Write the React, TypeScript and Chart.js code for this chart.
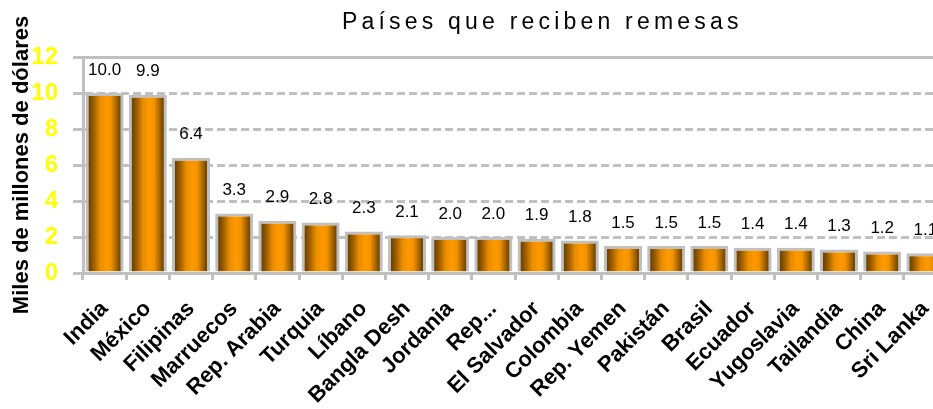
import React, { useEffect, useRef } from 'react';
import { Chart, registerables } from 'chart.js';

Chart.register(...registerables);

const CHART_TITLE = 'Países que reciben remesas';
const Y_TITLE = 'Miles de millones de dólares';
const countries = [
  'India', 'México', 'Filipinas', 'Marruecos', 'Rep. Arabia', 'Turquia', 'Líbano',
  'Bangla Desh', 'Jordania', 'Rep...', 'El Salvador', 'Colombia', 'Rep. Yemen',
  'Pakistán', 'Brasil', 'Ecuador', 'Yugoslavia', 'Tailandia', 'China', 'Sri Lanka',
];
const remittances = [
  10.0, 9.9, 6.4, 3.3, 2.9, 2.8, 2.3, 2.1, 2.0, 2.0,
  1.9, 1.8, 1.5, 1.5, 1.5, 1.4, 1.4, 1.3, 1.2, 1.1,
];
const yTickValues = [0, 2, 4, 6, 8, 10, 12];

const FONT = "'Liberation Sans', Arial, Helvetica, sans-serif";
const GRID = '#c0c0c0';
const BAR_PCT = 0.88;

const decorPlugin = {
  id: 'decor',
  beforeDatasetsDraw(chart: any) {
    const { ctx, chartArea } = chart;
    ctx.save();
    ctx.strokeStyle = GRID;
    ctx.lineWidth = 3;
    ctx.setLineDash([]);
    ctx.beginPath();
    ctx.moveTo(chartArea.left - 10, Math.round(chartArea.top) + 0.5);
    ctx.lineTo(chartArea.right, Math.round(chartArea.top) + 0.5);
    ctx.stroke();
    ctx.restore();
  },
  afterDatasetsDraw(chart: any) {
    const { ctx } = chart;
    const meta = chart.getDatasetMeta(0);
    ctx.save();
    ctx.font = `17px ${FONT}`;
    ctx.fillStyle = '#000';
    ctx.textAlign = 'center';
    ctx.textBaseline = 'middle';
    meta.data.forEach((bar: any, i: number) => {
      ctx.fillText(remittances[i].toFixed(1), bar.x, bar.y - 23);
    });
    ctx.restore();
  },
  afterDraw(chart: any) {
    const { ctx } = chart;
    ctx.save();
    ctx.font = `23px ${FONT}`;
    ctx.fillStyle = '#000';
    ctx.textAlign = 'left';
    ctx.textBaseline = 'alphabetic';
    try { (ctx as any).letterSpacing = '4.2px'; } catch (e) { /* ignore */ }
    ctx.fillText(CHART_TITLE, 342, 29);
    ctx.restore();
  },
};

function barGradient(context: any) {
  const chart = context.chart;
  const xs = chart.scales && chart.scales.x;
  if (!xs || !chart.chartArea || context.dataIndex === undefined) return '#ff9900';
  const cx = xs.getPixelForValue(context.dataIndex);
  const w = (xs.width / countries.length) * BAR_PCT;
  const g = chart.ctx.createLinearGradient(cx - w / 2 + 3, 0, cx + w / 2 - 3, 0);
  g.addColorStop(0, '#683f00');
  g.addColorStop(0.15, '#9a5c00');
  g.addColorStop(0.35, '#e88c00');
  g.addColorStop(0.55, '#ff9a00');
  g.addColorStop(0.7, '#f39200');
  g.addColorStop(0.85, '#b06a00');
  g.addColorStop(1, '#6a4000');
  return g;
}

export default function App() {
  const canvasRef = useRef<HTMLCanvasElement | null>(null);

  useEffect(() => {
    if (!canvasRef.current) return;
    const chart = new Chart(canvasRef.current, {
      type: 'bar',
      data: {
        labels: countries,
        datasets: [
          {
            data: remittances,
            backgroundColor: barGradient,
            borderColor: GRID,
            borderWidth: 3,
            barPercentage: BAR_PCT,
            categoryPercentage: 1,
          },
        ],
      },
      options: {
        responsive: false,
        animation: false,
        devicePixelRatio: 1,
        layout: { padding: { top: 57, left: 0, right: 0, bottom: 0 } },
        plugins: {
          legend: { display: false },
          title: { display: false },
          tooltip: { enabled: false },
        },
        scales: {
          x: {
            offset: true,
            grid: {
              offset: true,
              drawOnChartArea: false,
              drawTicks: true,
              tickLength: 7,
              color: GRID,
              lineWidth: 3,
            },
            border: { display: true, color: GRID, width: 3 },
            ticks: {
              color: '#000',
              font: { family: FONT, size: 22, weight: 'bold' },
              minRotation: 45,
              maxRotation: 45,
              autoSkip: false,
              padding: 16,
            },
            afterFit(scale: any) {
              scale.height = 136;
              scale.paddingLeft = 0;
              scale.paddingRight = 0;
            },
          },
          y: {
            min: yTickValues[0],
            max: yTickValues[yTickValues.length - 1],
            grid: {
              color: GRID,
              lineWidth: 3,
              tickLength: 10,
              drawTicks: true,
            },
            border: { display: true, color: GRID, width: 3, dash: [8, 4] },
            ticks: {
              stepSize: 2,
              autoSkip: false,
              color: '#ffff00',
              padding: 15,
              font: { family: FONT, size: 24, weight: 'bold' },
            },
            title: {
              display: true,
              text: Y_TITLE,
              color: '#000',
              font: { family: FONT, size: 22, weight: 'bold' },
              padding: { top: 9, bottom: 0 },
            },
            afterFit(scale: any) {
              scale.width = 83;
            },
          },
        },
      },
      plugins: [decorPlugin],
    });
    return () => chart.destroy();
  }, []);

  return (
    <div
      style={{
        position: 'fixed',
        left: 0,
        top: 0,
        width: 933,
        height: 409,
        overflow: 'hidden',
        background: '#fff',
      }}
    >
      <canvas ref={canvasRef} width={947} height={409} style={{ display: 'block' }} />
    </div>
  );
}
